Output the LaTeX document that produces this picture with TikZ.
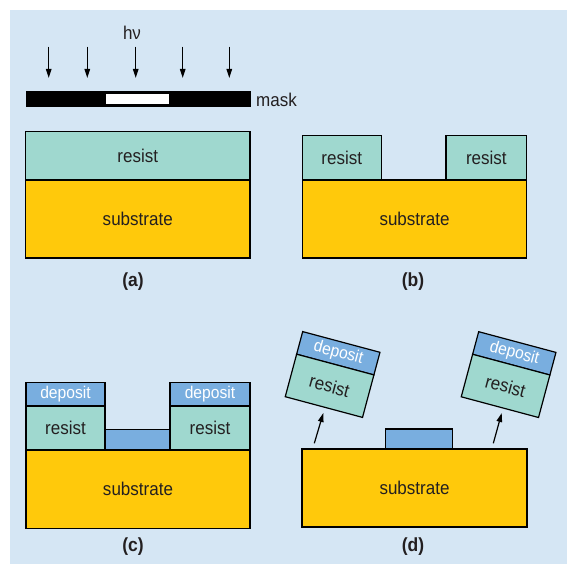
\documentclass[tikz,border=0pt]{standalone}
\usepackage{fontspec}
\setmainfont{Liberation Sans}[FakeStretch=0.92]
\usetikzlibrary{arrows.meta}
\definecolor{bgblue}{HTML}{D5E6F4}
\definecolor{resistc}{HTML}{9FD8CF}
\definecolor{substc}{HTML}{FFC90B}
\definecolor{depc}{HTML}{79AEDF}
\definecolor{txt}{HTML}{231F20}
\tikzset{
  layer/.style={draw=black, line width=1.2pt, inner sep=0pt, outer sep=0pt, text=txt,
    font=\fontsize{18.5}{18.5}\selectfont},
  resistbox/.style={layer, fill=resistc},
  substbox/.style={layer, fill=substc},
  depbox/.style={layer, fill=depc, text=white, font=\fontsize{17}{17}\selectfont},
  caption/.style={text=txt, font=\bfseries\fontsize{19}{19}\selectfont, inner sep=0pt},
  plain/.style={text=txt, font=\fontsize{18.5}{18.5}\selectfont, inner sep=0pt},
  ray/.style={line width=1.2pt, -{Triangle[length=9pt,width=5.5pt]}},
}
\begin{document}
\begin{tikzpicture}[x=1pt,y=-1pt]
\useasboundingbox (0,0) rectangle (567,564);
\fill[bgblue] (10,10) rectangle (567,564);

% ---- (a) ----
\node[plain] (hv) at (132,33) {hν};
\foreach \i/\xx in {1/48.7,2/87.3,3/135.7,4/182.7,5/229.3}{
  \coordinate (r\i s) at (\xx,46.7);
  \coordinate (r\i e) at (\xx,78);
  \draw[ray] (r\i s) -- (r\i e);
}
\node[draw=black, fill=black, inner sep=0pt, minimum width=224.3pt, minimum height=14.3pt] (mask) at (137.85,98.85) {};
\node[draw=black, fill=white, line width=1pt, inner sep=0pt, minimum width=64pt, minimum height=11pt] (gap) at (137,98.85) {};
\node[plain, anchor=west] (masklbl) at (256,99.5) {mask};

\node[resistbox, minimum width=224.5pt, minimum height=48.3pt] (ra) at (137.75,155.85) {resist};
\node[substbox, minimum width=224.5pt, minimum height=78pt] (sa) at (137.75,219) {substrate};
\node[caption] (capa) at (133,282) {(a)};

% ---- (b) ----
\node[substbox, minimum width=224.4pt, minimum height=78pt] (sb) at (414.5,219) {substrate};
\node[resistbox, minimum width=79pt, minimum height=44.3pt] (rbl) at (341.8,157.85) {resist};
\node[resistbox, minimum width=80.7pt, minimum height=44.3pt] (rbr) at (486.35,157.85) {resist};
\node[caption] (capb) at (413,282) {(b)};

% ---- (c) ----
\node[substbox, minimum width=224pt, minimum height=78.3pt] (sc) at (138,489.15) {substrate};
\node[resistbox, minimum width=79pt, minimum height=44pt] (rcl) at (65.5,428) {resist};
\node[depbox, minimum width=79pt, minimum height=23.7pt] (dcl) at (65.5,394.15) {deposit};
\node[resistbox, minimum width=80pt, minimum height=44pt] (rcr) at (210,428) {resist};
\node[depbox, minimum width=80pt, minimum height=23.7pt] (dcr) at (210,394.15) {deposit};
\node[depbox, minimum width=65pt, minimum height=20.7pt] (dcm) at (137.5,439.65) {};
\node[caption] (capc) at (133,547) {(c)};

% ---- (d) ----
\node[substbox, minimum width=225pt, minimum height=78pt] (sd) at (414.5,488) {substrate};
\node[depbox, minimum width=67pt, minimum height=20pt] (ddm) at (419.2,439) {};
\begin{scope}[shift={(332.6,374.5)}, rotate=-15, transform shape]
  \node[depbox, minimum width=80pt, minimum height=23.4pt] (ddl) at (0,-22) {deposit};
  \node[resistbox, minimum width=80pt, minimum height=44pt] (rdl) at (0,11.7) {resist};
\end{scope}
\begin{scope}[shift={(508.6,374.6)}, rotate=-15, transform shape]
  \node[depbox, minimum width=80pt, minimum height=23.4pt] (ddr) at (0,-22) {deposit};
  \node[resistbox, minimum width=80pt, minimum height=44pt] (rdr) at (0,11.7) {resist};
\end{scope}
\coordinate (al s) at (314.3,443.3);
\coordinate (al e) at (323.3,413);
\coordinate (ar s) at (493.3,443.3);
\coordinate (ar e) at (501.7,413);
\draw[ray] (al s) -- (al e);
\draw[ray] (ar s) -- (ar e);
\node[caption] (capd) at (413,547) {(d)};
\end{tikzpicture}
\end{document}
